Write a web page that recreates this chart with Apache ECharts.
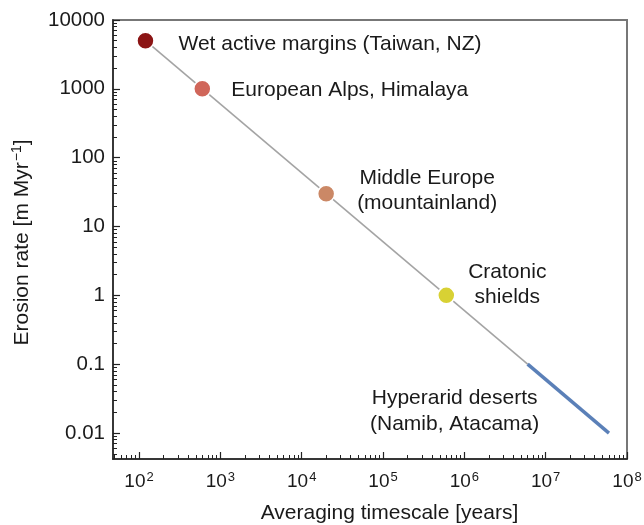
<!DOCTYPE html>
<html>
<head>
<meta charset="utf-8">
<script src="https://cdn.jsdelivr.net/npm/echarts@6/dist/echarts.min.js"></script>
<style>html,body{margin:0;padding:0;background:#fff;}#chart{width:644px;height:525px;}</style>
</head>
<body>
<div id="chart"></div>
<script>
// ---- data ----
const categories = ['Wet active margins (Taiwan, NZ)', 'European Alps, Himalaya', 'Middle Europe\n(mountainland)', 'Cratonic\nshields'];
const timescales = [120, 600, 20000, 600000];          // years
const rates = [5000, 1000, 30, 1];                      // m/Myr
const trendX = [120, 6000000];
const trendY = [5000, 0.1];
const desertName = 'Hyperarid deserts\n(Namib, Atacama)';
const desertX = [6000000, 60000000];
const desertY = [0.1, 0.01];
const xTickValues = [1e2, 1e3, 1e4, 1e5, 1e6, 1e7, 1e8];
const xTickExponents = ['2', '3', '4', '5', '6', '7', '8'];
const yTickValues = [0.01, 0.1, 1, 10, 100, 1000, 10000];
const yTickLabels = ['0.01', '0.1', '1', '10', '100', '1000', '10000'];
const xMin = Math.pow(10, 1.68), xMax = 1e8;
const yMin = Math.pow(10, -2.377), yMax = 1e4;

// ---- styles ----
const pointColors = ['#8B1414', '#D0665A', '#CB8866', '#D8D134'];
const labelOffsets = [[33, 3, 'left'], [29, 1.5, 'left'], [101, -3, 'center'], [61, -10.5, 'center']];
const FONT = '"Liberation Sans", Arial, Helvetica, sans-serif';
const TXT = '#1a1a1a';

function minorTicks(lo, hi) {
  const out = [];
  for (let k = -4; k <= 9; k++) {
    for (let m = 2; m <= 9; m++) {
      const v = m * Math.pow(10, k);
      if (v > lo && v < hi) out.push(v);
    }
  }
  return out;
}

const chart = echarts.init(document.getElementById('chart'), null, {renderer: 'canvas'});
const tickColor = '#222';
const option = {
  animation: false,
  backgroundColor: '#fff',
  textStyle: {fontFamily: FONT},
  grid: {left: 113, right: 17, top: 20, bottom: 66, show: true, borderColor: '#777', borderWidth: 2,
    backgroundColor: 'transparent', containLabel: false, outerBoundsMode: 'none'},
  xAxis: [{
    type: 'log', logBase: 10, min: xMin, max: xMax, position: 'bottom',
    name: 'Averaging timescale [years]', nameLocation: 'middle', nameGap: 44,
    nameTextStyle: {fontSize: 21, color: TXT, fontFamily: FONT, padding: [0, 0, 0, 39]},
    axisLine: {show: true, lineStyle: {color: '#222', width: 1.5}},
    axisTick: {show: true, inside: true, length: 7, lineStyle: {color: tickColor, width: 1.2}, customValues: xTickValues},
    axisLabel: {
      show: true, margin: 12, customValues: xTickValues,
      formatter: function (v) {
        const e = Math.round(Math.log10(v));
        const i = xTickValues.findIndex(t => Math.abs(Math.log10(t) - e) < 1e-6);
        return '{b|10}{s|' + (i >= 0 ? xTickExponents[i] : e) + '}';
      },
      rich: {
        b: {fontSize: 19, color: TXT, fontFamily: FONT, lineHeight: 22},
        s: {fontSize: 13, color: TXT, fontFamily: FONT, verticalAlign: 'top', lineHeight: 13, padding: [0, 0, 0, 1]}
      }
    },
    splitLine: {show: false}, minorTick: {show: false}, minorSplitLine: {show: false}
  }, {
    type: 'log', logBase: 10, min: xMin, max: xMax, position: 'bottom', gridIndex: 0,
    axisLine: {show: false},
    axisTick: {show: true, inside: true, length: 4, lineStyle: {color: tickColor, width: 1}, customValues: minorTicks(xMin, xMax)},
    axisLabel: {show: false}, splitLine: {show: false}
  }],
  yAxis: [{
    type: 'log', logBase: 10, min: yMin, max: yMax, position: 'left',
    name: '{a|Erosion rate [m Myr}{s|−1}{a|]}', nameLocation: 'middle', nameGap: 79, nameRotate: 90,
    nameTextStyle: {
      fontSize: 21, color: TXT, fontFamily: FONT, padding: [0, 6, 0, 0],
      rich: {
        a: {fontSize: 21, color: TXT, fontFamily: FONT, lineHeight: 24},
        s: {fontSize: 14, color: TXT, fontFamily: FONT, verticalAlign: 'top', lineHeight: 14, padding: [0, 0, 0, 1]}
      }
    },
    axisLine: {show: true, lineStyle: {color: '#222', width: 1.5}},
    axisTick: {show: true, inside: true, length: 7, lineStyle: {color: tickColor, width: 1.2}, customValues: yTickValues},
    axisLabel: {
      show: true, margin: 8, fontSize: 20.5, color: TXT, fontFamily: FONT, customValues: yTickValues,
      formatter: function (v) {
        let best = 0, d = Infinity;
        yTickValues.forEach((t, i) => { const dd = Math.abs(Math.log10(t) - Math.log10(v)); if (dd < d) { d = dd; best = i; } });
        return yTickLabels[best];
      }
    },
    splitLine: {show: false}, minorTick: {show: false}, minorSplitLine: {show: false}
  }, {
    type: 'log', logBase: 10, min: yMin, max: yMax, position: 'left', gridIndex: 0,
    axisLine: {show: false},
    axisTick: {show: true, inside: true, length: 4, lineStyle: {color: tickColor, width: 1}, customValues: minorTicks(yMin, yMax)},
    axisLabel: {show: false}, splitLine: {show: false}
  }],
  series: [
    {
      type: 'line', name: 'trend', xAxisIndex: 0, yAxisIndex: 0, z: 2,
      data: trendX.map((x, i) => [x, trendY[i]]),
      symbol: 'none', lineStyle: {color: '#A4A4A4', width: 1.6}, silent: true
    },
    {
      type: 'line', name: 'Hyperarid deserts', xAxisIndex: 0, yAxisIndex: 0, z: 3,
      data: desertX.map((x, i) => [x, desertY[i]]),
      symbol: 'none', lineStyle: {color: '#5B80B8', width: 3.5, cap: 'butt'}, silent: true
    },
    {
      type: 'scatter', name: 'desert label', xAxisIndex: 0, yAxisIndex: 0, z: 4,
      data: [[desertX[0], desertY[0]]],
      symbolSize: 1, itemStyle: {color: 'rgba(0,0,0,0)', opacity: 1},
      label: {show: true, position: 'inside', offset: [-73, 47], align: 'center', verticalAlign: 'middle',
        formatter: desertName, fontSize: 21, lineHeight: 26, color: TXT, fontFamily: FONT}
    },
    {
      type: 'scatter', name: 'regions', xAxisIndex: 0, yAxisIndex: 0, z: 5,
      symbolSize: 17,
      itemStyle: {opacity: 1},
      data: timescales.map((x, i) => ({
        value: [x, rates[i]],
        name: categories[i],
        itemStyle: {color: pointColors[i], borderColor: '#fff', borderWidth: 1.5, opacity: 1},
        label: {
          show: true, position: 'inside', offset: [labelOffsets[i][0], labelOffsets[i][1]],
          align: labelOffsets[i][2], verticalAlign: 'middle',
          formatter: categories[i], fontSize: 21, lineHeight: 25, color: TXT, fontFamily: FONT
        }
      }))
    }
  ]
};
chart.setOption(option);
</script>
</body>
</html>
